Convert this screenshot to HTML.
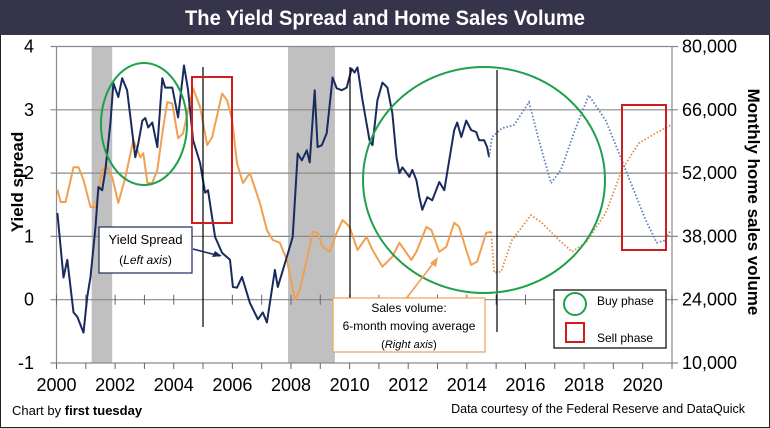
<!DOCTYPE html>
<html><head><meta charset="utf-8">
<style>
html,body{margin:0;padding:0;background:#fff;}
svg{display:block;font-family:"Liberation Sans Narrow","Liberation Sans",sans-serif;}
</style></head>
<body>
<svg id="chart" width="770" height="428" viewBox="0 0 770 428" xmlns="http://www.w3.org/2000/svg">
<rect x="0.5" y="0.5" width="769" height="427" fill="#fff" stroke="#222"/>
<rect x="0" y="0" width="770" height="35" fill="#35344a"/>
<text x="385" y="25" text-anchor="middle" fill="#fff" font-size="21" font-weight="bold" textLength="400" lengthAdjust="spacingAndGlyphs">The Yield Spread and Home Sales Volume</text>
<g id="recessions"></g>
<g id="grid"></g>
<g id="series"></g>
<g id="annot">
<line x1="203" y1="67" x2="203" y2="327" stroke="#000" stroke-width="1.2"/>
<line x1="350" y1="67" x2="350" y2="300" stroke="#000" stroke-width="1.2"/>
<line x1="497" y1="70" x2="497" y2="332" stroke="#000" stroke-width="1.2"/>
<ellipse cx="144" cy="124" rx="43" ry="61" fill="none" stroke="#1fa04a" stroke-width="2"/>
<ellipse cx="484" cy="180" rx="121" ry="113" fill="none" stroke="#1fa04a" stroke-width="2"/>
<rect x="192" y="77" width="40" height="146" fill="none" stroke="#d01c1c" stroke-width="2"/>
<rect x="622" y="105" width="44" height="145" fill="none" stroke="#d01c1c" stroke-width="2"/>
<g>
<rect x="99" y="227" width="93" height="46" fill="#fff" stroke="#1a2a5e" stroke-width="1.2"/>
<text x="145.5" y="244" text-anchor="middle" font-size="13" font-family="Liberation Sans,sans-serif">Yield Spread</text>
<text x="145.5" y="264" text-anchor="middle" font-size="12" font-family="Liberation Sans,sans-serif">(<tspan font-style="italic">Left axis</tspan>)</text>
<line x1="193" y1="249" x2="220" y2="256" stroke="#1a2a5e" stroke-width="1.6"/>
<path d="M222 256 L212 257 L215 251 Z" fill="#1a2a5e"/>
</g>
<g>
<line x1="405" y1="300" x2="435" y2="261" stroke="#f0a050" stroke-width="1.6"/>
<path d="M438 257 L436 267 L430 263 Z" fill="#f0a050"/>
<rect x="333" y="298" width="152" height="54" fill="#fff" stroke="#f0a050" stroke-width="1.2"/>
<text x="409" y="312" text-anchor="middle" font-size="12" font-family="Liberation Sans,sans-serif">Sales volume:</text>
<text x="409" y="330" text-anchor="middle" font-size="12" font-family="Liberation Sans,sans-serif">6-month moving average</text>
<text x="409" y="348" text-anchor="middle" font-size="11" font-family="Liberation Sans,sans-serif">(<tspan font-style="italic">Right axis</tspan>)</text>
</g>
<g>
<rect x="554" y="290" width="112" height="58" fill="#fff" stroke="#000" stroke-width="1.2"/>
<circle cx="575" cy="304" r="11" fill="none" stroke="#1fa04a" stroke-width="2"/>
<text x="597" y="305" font-size="12" font-family="Liberation Sans,sans-serif">Buy phase</text>
<rect x="566" y="323" width="18" height="19" fill="none" stroke="#d01c1c" stroke-width="2"/>
<text x="597" y="342" font-size="12" font-family="Liberation Sans,sans-serif">Sell phase</text>
</g>
</g>
<text transform="translate(23,182) rotate(-90)" text-anchor="middle" font-size="17" font-weight="bold" font-family="Liberation Sans,sans-serif">Yield spread</text>
<text transform="translate(748,202) rotate(90)" text-anchor="middle" font-size="17" font-weight="bold" font-family="Liberation Sans,sans-serif">Monthly home sales volume</text>
<text x="12" y="415" font-size="13" font-family="Liberation Sans,sans-serif">Chart by <tspan font-weight="bold">first tuesday</tspan></text>
<text x="745" y="413" text-anchor="end" font-size="12.5" font-family="Liberation Sans,sans-serif">Data courtesy of the Federal Reserve and DataQuick</text>
</svg>
<script>
const yieldYears=[2000.03,2000.24,2000.37,2000.58,2000.71,2000.92,2001.05,2001.16,2001.33,2001.43,2001.56,2001.67,2001.84,2001.94,2002.11,2002.24,2002.41,2002.69,2002.79,2002.93,2003.03,2003.13,2003.27,2003.44,2003.61,2003.71,2003.95,2004.15,2004.35,2004.49,2004.66,2004.90,2005.07,2005.17,2005.41,2005.65,2005.92,2006.02,2006.16,2006.33,2006.60,2006.87,2007.04,2007.18,2007.45,2007.55,2007.86,2008.06,2008.23,2008.37,2008.54,2008.64,2008.81,2008.91,2009.05,2009.22,2009.42,2009.56,2009.73,2009.90,2010.07,2010.17,2010.27,2010.44,2010.68,2010.78,2010.95,2011.12,2011.29,2011.46,2011.60,2011.70,2011.80,2012.04,2012.14,2012.28,2012.38,2012.48,2012.65,2012.82,2013.06,2013.23,2013.40,2013.57,2013.67,2013.81,2013.98,2014.15,2014.32,2014.42,2014.59,2014.69,2014.76];
const yieldValues=[1.37,0.35,0.63,-0.20,-0.27,-0.52,0.05,0.36,1.15,1.78,1.73,2.05,2.79,3.42,3.20,3.50,3.31,2.25,2.47,2.83,2.87,2.72,2.80,2.41,3.50,3.35,3.35,2.88,3.70,3.31,2.52,2.16,1.69,1.73,0.99,0.74,0.63,0.20,0.19,0.36,-0.05,-0.31,-0.20,-0.36,0.47,0.20,0.68,0.99,2.31,2.20,2.36,2.17,3.31,2.41,2.44,2.63,3.51,3.34,3.31,3.35,3.65,3.59,3.67,3.15,2.52,2.44,3.15,3.43,3.35,2.94,2.25,2.00,2.09,1.94,2.05,1.89,1.62,1.42,1.62,1.57,1.86,1.73,2.20,2.68,2.80,2.57,2.83,2.68,2.65,2.52,2.52,2.41,2.25];
const yieldFcYears=[2014.76,2014.86,2015.20,2015.61,2016.12,2016.46,2016.87,2017.21,2017.72,2018.16,2018.74,2019.42,2020.10,2020.48,2020.78,2020.95];
const yieldFcValues=[2.25,2.57,2.71,2.76,3.12,2.52,1.84,2.05,2.72,3.23,2.83,2.05,1.26,0.90,0.94,1.10];
const salesYears=[2000.03,2000.14,2000.31,2000.58,2000.75,2000.92,2001.16,2001.33,2001.56,2001.73,2001.90,2002.11,2002.35,2002.62,2002.86,2002.96,2003.10,2003.27,2003.44,2003.64,2003.78,2003.95,2004.15,2004.32,2004.49,2004.66,2004.90,2005.14,2005.31,2005.65,2005.82,2005.99,2006.16,2006.36,2006.60,2006.94,2007.18,2007.38,2007.62,2007.86,2008.13,2008.30,2008.54,2008.74,2008.91,2009.08,2009.32,2009.56,2009.76,2010.00,2010.27,2010.58,2010.78,2011.12,2011.46,2011.70,2011.87,2012.11,2012.28,2012.62,2012.79,2013.06,2013.30,2013.57,2013.74,2013.98,2014.15,2014.35,2014.66,2014.83];
const salesValues=[48300,45600,45600,53300,53300,50500,44500,44500,52700,53300,51100,45400,51100,59300,55500,56400,49800,49800,52700,62100,67700,67400,59700,60800,65900,70700,66600,58200,59900,69600,68100,63700,54200,49800,52000,45400,39400,37200,36600,32800,24000,26200,32800,39000,38800,35700,34600,38800,41600,40100,35000,37900,35000,31300,33500,36600,35000,32800,34600,40100,39400,34600,35700,41000,40100,35000,31700,32400,38800,39000];
const salesFcYears=[2014.83,2014.93,2015.17,2015.54,2016.19,2016.56,2017.14,2017.59,2018.06,2018.74,2019.29,2019.86,2020.44,2020.95];
const salesFcValues=[39000,30000,30200,37200,42700,41000,37200,34600,36600,43200,52700,58600,60800,62600];
const recessionStarts=[2001.2,2007.9];
const recessionEnds=[2001.9,2009.5];
const leftTicks=[4,3,2,1,0,-1];
const rightTicks=["80,000","66,000","52,000","38,000","24,000","10,000"];
const yearLabels=[2000,2002,2004,2006,2008,2010,2012,2014,2016,2018,2020];

const NS="http://www.w3.org/2000/svg";
const X0=56.5,X1=672,Y4=46.5,Ym1=363;
function xs(yr){return X0+(yr-2000)*(X1-X0)/21;}
function yl(v){return Y4+(4-v)*(Ym1-Y4)/5;}
function yr(v){return Y4+(80000-v)*(Ym1-Y4)/70000;}
function mk(tag,attrs,parent){const e=document.createElementNS(NS,tag);for(const k in attrs)e.setAttribute(k,attrs[k]);parent.appendChild(e);return e;}
const gRec=document.getElementById('recessions'),gGrid=document.getElementById('grid'),gSer=document.getElementById('series');
recessionStarts.forEach((s,i)=>{
 const r=mk('rect',{x:xs(s),y:Y4,width:xs(recessionEnds[i])-xs(s),height:Ym1-Y4,fill:'#c0c0c0'},gRec);
 
 
});
leftTicks.forEach((v,i)=>{
 const y=yl(v);
 const l=mk('line',{x1:X0-6,y1:y,x2:X1+6,y2:y,stroke:'#8a8a8a','stroke-width':1.2},gGrid);
 
 
 const t=mk('text',{x:34,y:y+6,'text-anchor':'end','font-size':18},gGrid);t.textContent=v;
 
 
 const t2=mk('text',{x:682,y:y+6,'font-size':18},gGrid);t2.textContent=rightTicks[i];
 
 
});
const ax=mk('line',{x1:X0,y1:Y4,x2:X0,y2:Ym1,stroke:'#8a8a8a','stroke-width':1.2},gGrid);


const ax2=mk('line',{x1:X1,y1:Y4,x2:X1,y2:Ym1,stroke:'#8a8a8a','stroke-width':1.2},gGrid);


for(let y=2000;y<=2021;y++){
 const x=xs(y);
 const tk=mk('line',{x1:x,y1:Ym1,x2:x,y2:Ym1+6,stroke:'#666'},gGrid);
 
 
 const tz=mk('line',{x1:x,y1:yl(0)-5,x2:x,y2:yl(0)+5,stroke:'#666'},gGrid);
 
 
}
yearLabels.forEach(y=>{
 const t=mk('text',{x:xs(y),y:391,'text-anchor':'middle','font-size':18},gGrid);t.textContent=y;
 
 
});
function path(xsArr,vals,fy){return xsArr.map((x,i)=>(i?'L':'M')+xs(x).toFixed(1)+' '+fy(vals[i]).toFixed(1)).join(' ');}
const p1=mk('path',{d:path(salesYears,salesValues,yr),fill:'none',stroke:'#f0a050','stroke-width':2,'stroke-linejoin':'round'},gSer);


const p2=mk('path',{d:path(salesFcYears,salesFcValues,yr),fill:'none',stroke:'#e08a40','stroke-width':1.8,'stroke-dasharray':'1.5 2'},gSer);


const p3=mk('path',{d:path(yieldYears,yieldValues,yl),fill:'none',stroke:'#1a2a5e','stroke-width':2,'stroke-linejoin':'round'},gSer);


const p4=mk('path',{d:path(yieldFcYears,yieldFcValues,yl),fill:'none',stroke:'#5a7fb8','stroke-width':1.8,'stroke-dasharray':'1.5 2'},gSer);


</script>
</body></html>
